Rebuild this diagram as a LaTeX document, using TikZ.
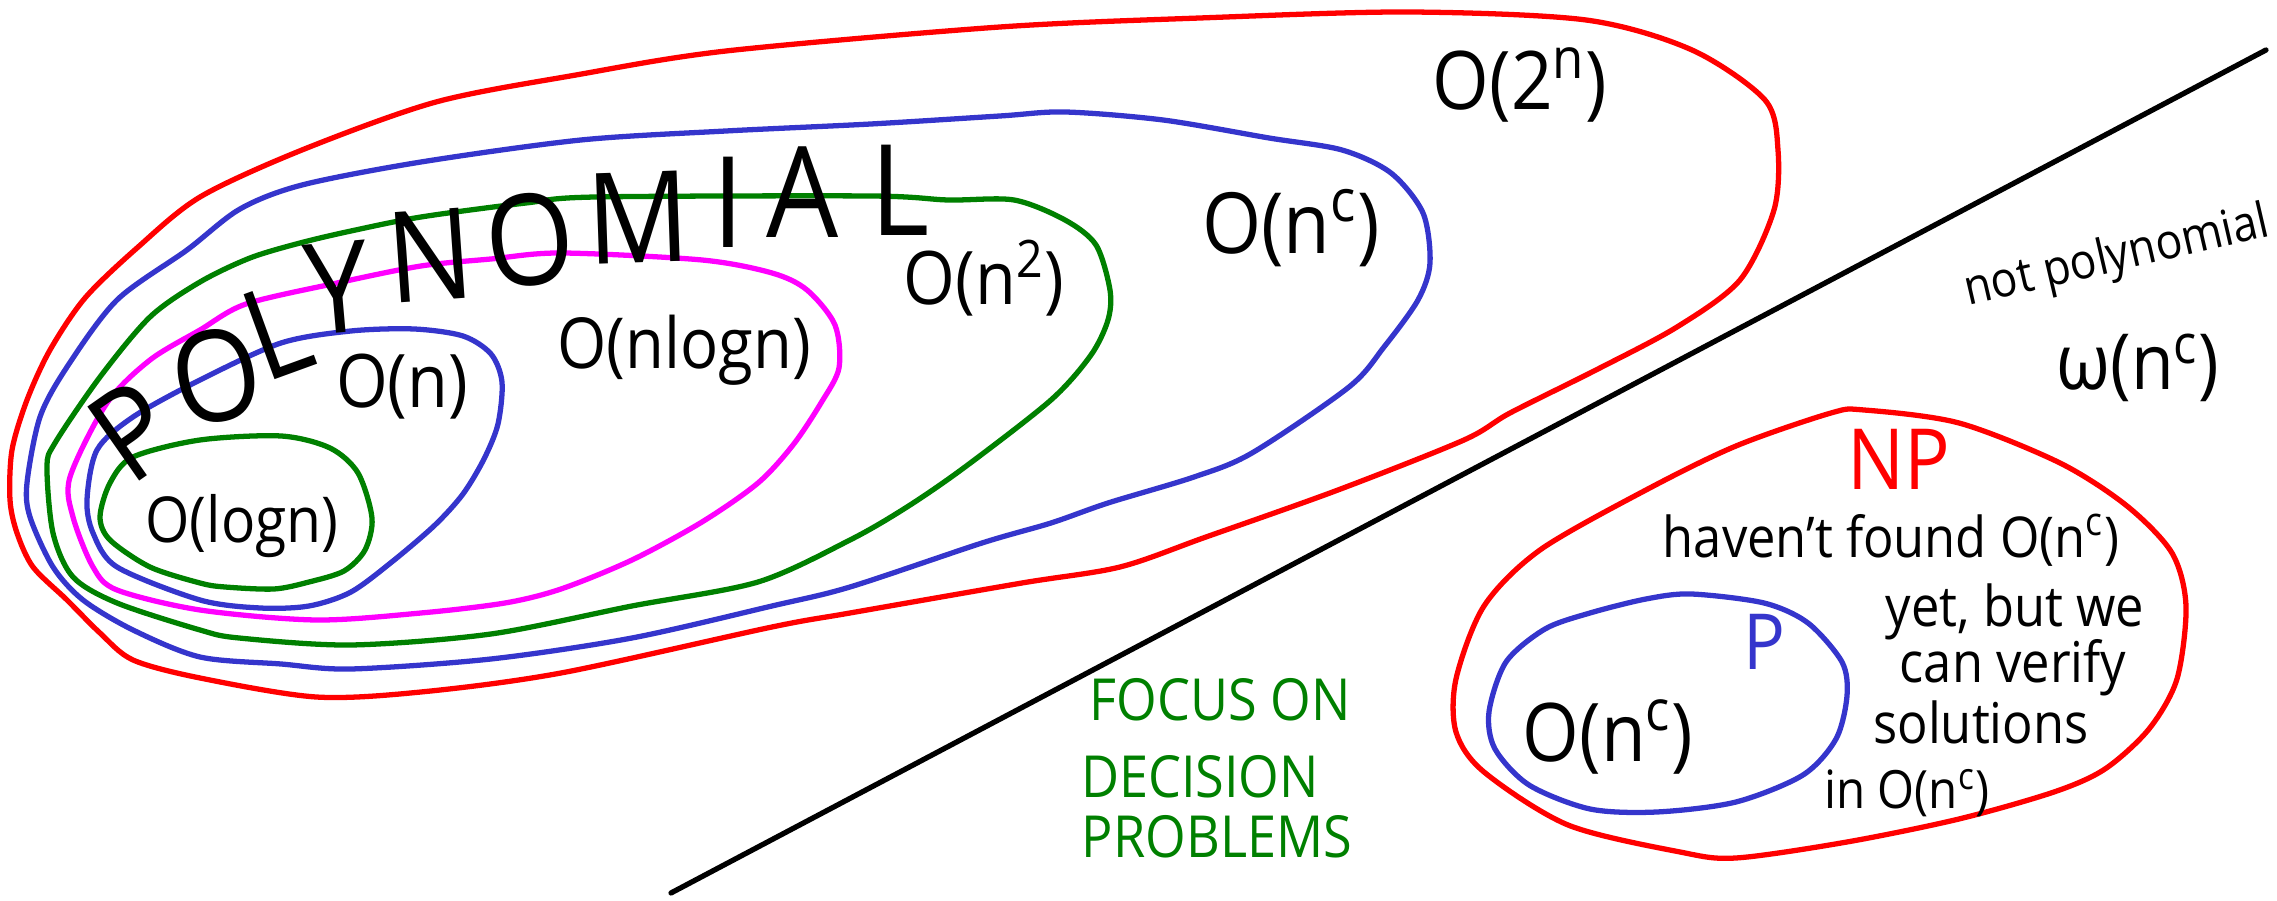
\documentclass[tikz,border=0pt]{standalone}
\usepackage{fontspec}
\setmainfont{Open Sans}[FakeStretch=0.9]
\usepackage{xcolor}
\usepackage{tikz}
\usetikzlibrary{positioning}
\definecolor{loopred}{HTML}{FF0000}
\definecolor{loopblue}{HTML}{3535CC}
\definecolor{loopgreen}{HTML}{008000}
\definecolor{loopmagenta}{HTML}{FF00FF}

\begin{document}
\begin{tikzpicture}[x=0.01cm,y=-0.01cm,
    loop/.style={line width=1.5pt,line join=round},
    bigo/.style={font=\fontsize{21}{24}\selectfont,inner sep=0pt},
    note/.style={font=\fontsize{16}{19}\selectfont,inner sep=0pt},
    polyletter/.style={font=\fontsize{36}{40}\selectfont,inner sep=0pt},
    focus/.style={text=loopgreen,font=\fontsize{16.5}{19}\selectfont,inner sep=0pt}]
    \useasboundingbox (0,0) rectangle (2277,901);
    % nested classes
    \draw[loop,loopred] plot[smooth cycle] coordinates {(137,248) (200,197) (302,150) (436,102) (576,75) (726,51) (1000,27) (1200,18) (1407,12) (1586,20) (1692,50) (1765,100) (1778,150) (1774,210) (1740,280) (1677,327) (1596,370) (1510,413) (1464,440) (1338,490) (1206,537) (1120,567) (1022,583) (850,613) (772,627) (561,673) (421,692) (316,697) (200,678) (133,660) (100,633) (67,600) (33,567) (17,533) (10,500) (12,450) (27,400) (50,350) (85,298)};
    \draw[loop,loopblue] plot[smooth cycle] coordinates {(187,250) (240,209) (302,185) (421,162) (581,140) (726,131) (871,124) (1000,116) (1065,112) (1163,120) (1269,138) (1342,150) (1391,173) (1423,213) (1430,263) (1418,300) (1384,347) (1349,387) (1252,453) (1194,477) (1108,503) (1051,523) (982,543) (850,587) (772,606) (632,638) (491,659) (351,669) (281,664) (200,657) (133,630) (83,600) (53,567) (30,517) (27,483) (40,417) (67,367) (117,300)};
    \draw[loop,loopgreen] plot[smooth cycle] coordinates {(200,282) (250,258) (300,243) (351,231) (421,217) (526,203) (596,197) (870,196) (948,200) (1014,200) (1065,220) (1096,245) (1110,290) (1108,320) (1091,355) (1051,400) (965,467) (907,507) (850,540) (758,582) (632,606) (491,634) (351,645) (239,638) (200,630) (117,603) (73,577) (53,533) (47,467) (55,443) (100,377) (150,317)};
    \draw[loop,loopmagenta] plot[smooth cycle] coordinates {(561,253) (702,260) (772,273) (807,290) (835,325) (839,368) (821,403) (793,445) (758,483) (702,522) (632,560) (561,589) (505,603) (421,613) (316,620) (200,610) (117,590) (93,567) (73,517) (70,477) (107,403) (150,360) (200,330) (246,304) (337,283) (421,266) (491,259)};
    \draw[loop,loopblue] plot[smooth cycle] coordinates {(414,329) (463,336) (491,354) (502,382) (498,424) (484,459) (463,494) (435,525) (393,561) (351,592) (309,606) (260,608) (200,600) (117,567) (93,533) (87,500) (97,450) (133,417) (200,380) (281,343) (351,331)};
    \draw[loop,loopgreen] plot[smooth cycle] coordinates {(281,436) (330,448) (358,473) (372,518) (365,550) (344,571) (309,582) (274,589) (225,587) (200,583) (150,567) (110,540) (100,517) (110,483) (133,457) (200,440)};
    % NP and P
    \draw[loop,loopred] plot[smooth cycle] coordinates {(1864,410) (1959,423) (2060,463) (2127,506) (2172,553) (2186,606) (2177,679) (2149,729) (2105,769) (2054,792) (1959,819) (1847,842) (1736,858) (1680,852) (1568,825) (1484,772) (1456,732) (1456,679) (1484,606) (1540,550) (1646,490) (1736,446) (1831,413)};
    \draw[loop,loopblue] plot[smooth cycle] coordinates {(1691,594) (1764,603) (1808,623) (1842,662) (1847,696) (1836,739) (1803,775) (1736,802) (1657,812) (1590,809) (1529,785) (1495,749) (1489,712) (1506,662) (1545,629) (1590,613) (1646,599)};
    \coordinate (divlow) at (671,893);
    \coordinate (divhigh) at (2266,50);
    \draw[line width=1.5pt,line cap=round] (divlow) -- (divhigh);
    \foreach \ch/\x/\y/\r [count=\i] in {P/133/431/35,O/216/376/12,L/277/331/20,Y/337/288/5,N/430/255/4,O/530/240/6,M/638/218/2,I/728/202/0,A/803/192/0,L/900/190/0}
        \node[polyletter,rotate=\r] (poly\i) at (\x,\y) {\ch};
    \node[bigo,font=\fontsize{18}{21}\selectfont] (ologn) at (242,526) {O(logn)};
    \node[bigo] (on) at (402,387) {O(n)};
    \node[bigo,font=\fontsize{20}{23}\selectfont] (onlogn) at (684,350) {O(nlogn)};
    \node[bigo] (onsq) at (984,278) {O(n\textsuperscript{2})};
    \node[bigo,font=\fontsize{24}{27}\selectfont] (onc) at (1291,228) {O(n\textsuperscript{c})};
    \node[bigo,font=\fontsize{23}{26}\selectfont] (otwon) at (1520,85) {O(2\textsuperscript{n})};
    \node[note,font=\fontsize{14}{16}\selectfont,rotate=13] (notpoly) at (2117,258) {not polynomial};
    \node[bigo,font=\fontsize{22}{25}\selectfont] (omegac) at (2138,368) {ω(n\textsuperscript{c})};
    \node[bigo,font=\fontsize{24}{27}\selectfont,text=loopred] (np) at (1899,459) {NP};
    \node[note] (havent) at (1891,540) {haven't found O(n\textsuperscript{c})};
    \node[note] (yetbut) at (2015,612) {yet, but we};
    \node[note] (verify) at (2013,668) {can verify};
    \node[note] (solutions) at (1981,722) {solutions};
    \node[note,font=\fontsize{15}{17}\selectfont] (inonc) at (1907,793) {in O(n\textsuperscript{c})};
    \node[bigo,font=\fontsize{22}{25}\selectfont,text=loopblue] (plabel) at (1764,642) {P};
    \node[bigo,font=\fontsize{23}{26}\selectfont] (inpnc) at (1608,737) {O(n\textsuperscript{c})};
    \node[focus] (focuson) at (1220,700) {FOCUS ON};
    \node[focus] (decision) at (1200,777) {DECISION};
    \node[focus] (problems) at (1217,837) {PROBLEMS};
\end{tikzpicture}
\end{document}
